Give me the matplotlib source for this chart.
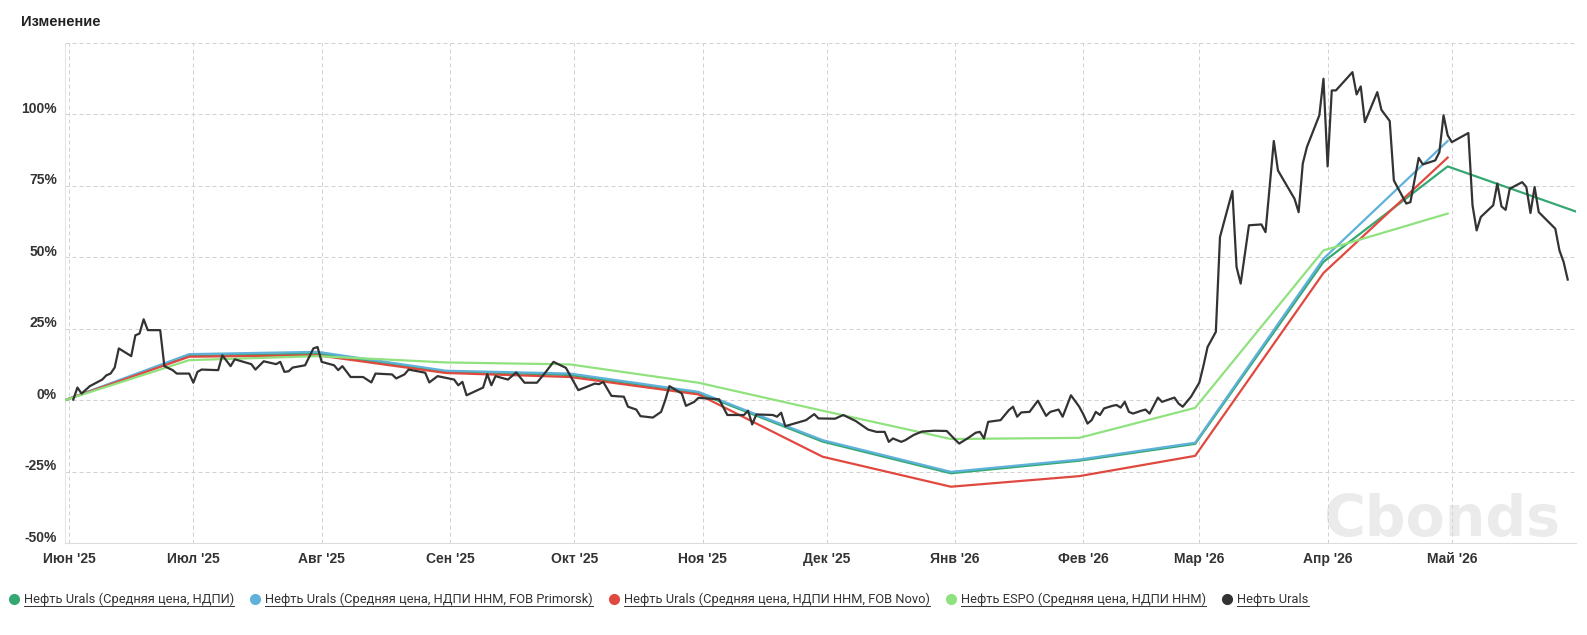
import matplotlib
matplotlib.use("Agg")
import matplotlib.pyplot as plt
from matplotlib.transforms import ScaledTranslation
from matplotlib.lines import Line2D
import pandas as pd

# ---------------- data ----------------
month_points = ["2025-05-31", "2025-06-30", "2025-07-31", "2025-08-31", "2025-09-30",
                "2025-10-31", "2025-11-30", "2025-12-31", "2026-01-31", "2026-02-28",
                "2026-03-31", "2026-04-30", "2026-05-31"]

urals_ndpi      = [0, 15.5, 16.3, 10.0, 8.8, 2.5, -14.5, -25.6, -21.2, -15.3, 48.4, 81.8, 66.0]
urals_primorsk  = [0, 16.1, 16.9, 10.3, 9.3, 2.9, -14.0, -25.1, -20.8, -14.9, 49.5, 90.7]
urals_novo      = [0, 15.2, 15.7, 9.5, 8.1, 2.0, -19.8, -30.3, -26.6, -19.5, 44.5, 84.9]
espo            = [0, 14.0, 15.4, 13.2, 12.5, 6.1, -3.7, -13.6, -13.2, -2.7, 52.4, 65.3]

urals_dates = [
    "2025-06-02", "2025-06-03", "2025-06-04", "2025-06-06", "2025-06-09", "2025-06-10",
    "2025-06-11", "2025-06-12", "2025-06-13", "2025-06-16", "2025-06-17", "2025-06-18",
    "2025-06-19", "2025-06-20", "2025-06-23", "2025-06-24", "2025-06-26", "2025-06-27",
    "2025-06-30", "2025-07-01", "2025-07-02", "2025-07-03", "2025-07-07", "2025-07-08",
    "2025-07-10", "2025-07-11", "2025-07-14", "2025-07-15", "2025-07-16", "2025-07-18",
    "2025-07-21", "2025-07-22", "2025-07-23", "2025-07-24", "2025-07-25", "2025-07-28",
    "2025-07-30", "2025-07-31", "2025-08-01", "2025-08-04", "2025-08-05", "2025-08-06",
    "2025-08-08", "2025-08-11", "2025-08-13", "2025-08-14", "2025-08-18", "2025-08-19",
    "2025-08-21", "2025-08-22", "2025-08-26", "2025-08-27", "2025-08-29", "2025-09-02",
    "2025-09-03", "2025-09-04", "2025-09-05", "2025-09-09", "2025-09-10", "2025-09-11",
    "2025-09-12", "2025-09-15", "2025-09-17", "2025-09-19", "2025-09-22", "2025-09-24",
    "2025-09-26", "2025-09-29", "2025-10-02", "2025-10-06", "2025-10-07", "2025-10-08",
    "2025-10-10", "2025-10-13", "2025-10-14", "2025-10-16", "2025-10-17", "2025-10-20",
    "2025-10-22", "2025-10-23", "2025-10-24", "2025-10-27", "2025-10-28", "2025-10-30",
    "2025-10-31", "2025-11-05", "2025-11-07", "2025-11-11", "2025-11-12", "2025-11-13",
    "2025-11-14", "2025-11-18", "2025-11-19", "2025-11-20", "2025-11-21", "2025-11-26",
    "2025-11-28", "2025-11-29", "2025-12-03", "2025-12-05", "2025-12-08", "2025-12-11",
    "2025-12-13", "2025-12-15", "2025-12-16", "2025-12-17", "2025-12-19", "2025-12-20",
    "2025-12-22", "2025-12-24", "2025-12-27", "2025-12-30", "2026-01-01", "2026-01-02",
    "2026-01-04", "2026-01-06", "2026-01-07", "2026-01-08", "2026-01-09", "2026-01-12",
    "2026-01-14", "2026-01-15", "2026-01-16", "2026-01-17", "2026-01-19", "2026-01-21",
    "2026-01-23", "2026-01-24", "2026-01-26", "2026-01-27", "2026-01-29", "2026-01-31",
    "2026-02-01", "2026-02-02", "2026-02-03", "2026-02-04", "2026-02-05", "2026-02-06",
    "2026-02-08", "2026-02-09", "2026-02-10", "2026-02-11", "2026-02-12", "2026-02-13",
    "2026-02-15", "2026-02-16", "2026-02-17", "2026-02-19", "2026-02-20", "2026-02-23",
    "2026-02-24", "2026-02-25", "2026-02-27", "2026-03-01", "2026-03-02", "2026-03-03",
    "2026-03-05", "2026-03-06", "2026-03-09", "2026-03-10", "2026-03-11", "2026-03-13",
    "2026-03-16", "2026-03-17", "2026-03-19", "2026-03-20", "2026-03-24", "2026-03-25",
    "2026-03-26", "2026-03-27", "2026-03-30", "2026-03-31", "2026-04-01", "2026-04-02",
    "2026-04-03", "2026-04-07", "2026-04-08", "2026-04-09", "2026-04-10", "2026-04-13",
    "2026-04-14", "2026-04-16", "2026-04-17", "2026-04-20", "2026-04-21", "2026-04-23",
    "2026-04-24", "2026-04-27", "2026-04-28", "2026-04-29", "2026-04-30", "2026-05-01",
    "2026-05-05", "2026-05-06", "2026-05-07", "2026-05-08", "2026-05-11", "2026-05-12",
    "2026-05-13", "2026-05-14", "2026-05-15", "2026-05-18", "2026-05-19", "2026-05-20",
    "2026-05-21", "2026-05-22", "2026-05-26", "2026-05-27", "2026-05-28", "2026-05-29",
]
urals_values = [
    0.2, 4.4, 2.3, 4.9, 7.2, 8.7,
    9.3, 11.4, 18.1, 15.4, 22.7, 23.3,
    28.3, 24.5, 24.5, 11.9, 10.5, 9.3,
    9.3, 6.1, 9.9, 10.7, 10.5, 15.7,
    11.9, 14.3, 13.0, 12.6, 10.7, 13.6,
    12.6, 13.4, 9.9, 10.1, 11.4, 12.2,
    18.1, 18.6, 13.4, 12.2, 10.5, 11.9,
    8.1, 8.1, 6.2, 9.3, 9.0, 7.6,
    9.0, 10.7, 9.6, 6.2, 8.4, 7.2,
    5.2, 6.4, 1.7, 4.4, 9.1, 5.2,
    8.4, 7.2, 9.7, 6.1, 6.1, 9.6,
    13.4, 11.3, 3.5, 5.8, 5.6, 6.4,
    1.5, 1.2, -2.3, -3.3, -5.6, -6.1,
    -4.1, 0.0, 4.9, 2.3, -2.0, -0.6,
    0.8, 0.3, -5.2, -5.2, -3.7, -8.5,
    -5.0, -5.2, -5.8, -4.4, -9.1, -7.0,
    -4.9, -6.4, -6.5, -5.2, -7.3, -10.3,
    -11.1, -11.1, -14.6, -13.4, -14.6, -14.0,
    -12.2, -11.0, -10.7, -10.8, -13.8, -15.2,
    -13.4, -11.4, -11.1, -13.4, -7.6, -7.0,
    -3.5, -2.3, -5.8, -4.3, -4.1, -0.2,
    -5.5, -4.1, -3.3, -5.8, 1.7, -2.3,
    -5.0, -8.2, -7.0, -4.1, -5.2, -2.9,
    -2.0, -1.7, -2.6, -0.6, -4.1, -4.7,
    -3.7, -3.3, -4.7, 0.9, -0.6, 0.9,
    -1.2, -2.3, 1.2, 6.1, 12.0, 18.6,
    23.9, 57.1, 73.2, 46.6, 40.8, 61.2,
    61.5, 58.8, 90.7, 80.4, 70.5, 65.8,
    82.8, 88.6, 99.7, 112.5, 81.8, 108.4,
    108.4, 114.8, 107.0, 109.8, 97.3, 107.8,
    101.6, 97.7, 76.9, 68.8, 69.3, 84.8,
    82.5, 83.9, 86.8, 99.7, 92.7, 90.3,
    93.5, 68.2, 59.4, 64.1, 68.2, 75.8,
    67.8, 66.6, 74.0, 76.3, 74.6, 65.5,
    74.6, 65.8, 60.0, 52.4, 48.4, 42.2,
]

month_ticks = ["2025-06-01", "2025-07-01", "2025-08-01", "2025-09-01", "2025-10-01",
               "2025-11-01", "2025-12-01", "2026-01-01", "2026-02-01", "2026-03-01",
               "2026-04-01", "2026-05-01"]
month_labels = ["Июн '25", "Июл '25", "Авг '25", "Сен '25", "Окт '25", "Ноя '25",
                "Дек '25", "Янв '26", "Фев '26", "Мар '26", "Апр '26", "Май '26"]
y_ticks = [-50, -25, 0, 25, 50, 75, 100, 125]

series_names = ["Нефть Urals (Средняя цена, НДПИ)",
                "Нефть Urals (Средняя цена, НДПИ ННМ, FOB Primorsk)",
                "Нефть Urals (Средняя цена, НДПИ ННМ, FOB Novo)",
                "Нефть ESPO (Средняя цена, НДПИ ННМ)",
                "Нефть Urals"]
colors = ["#35a872", "#5eb2da", "#e0493f", "#8fe27e", "#333333"]

# ---------------- figure ----------------
W, H, DPI = 1587, 635, 100
fig = plt.figure(figsize=(W / DPI, H / DPI), dpi=DPI)
fig.patch.set_facecolor("white")

L, R, T, B = 65, 1576, 43, 543
ax = fig.add_axes([L / W, 1 - B / H, (R - L) / W, (B - T) / H])
ax.set_axisbelow(True)

md = pd.to_datetime(month_points)
ax.plot(md, urals_ndpi, color=colors[0], lw=1.6, zorder=2)
ax.plot(md[:len(urals_primorsk)], urals_primorsk, color=colors[1], lw=1.6, zorder=3)
ax.plot(md[:len(urals_novo)], urals_novo, color=colors[2], lw=1.6, zorder=4)
ax.plot(md[:len(espo)], espo, color=colors[3], lw=1.6, zorder=5)
ax.plot(pd.to_datetime(urals_dates), urals_values, color=colors[4], lw=1.6, zorder=6)

ax.set_xlim(pd.Timestamp("2025-05-31"), pd.Timestamp("2026-05-31"))
ax.set_ylim(-50, 125)

ax.set_xticks(pd.to_datetime(month_ticks))
ax.set_xticklabels(month_labels, fontsize=10, fontweight="bold", color="#333333",
                   family="Liberation Sans")
ax.set_yticks(y_ticks)
ax.set_yticklabels([f"{v}%" if v != 125 else "" for v in y_ticks], fontsize=10,
                   fontweight="bold", color="#333333", family="Liberation Sans")
ax.tick_params(axis="both", length=0)
ax.tick_params(axis="x", pad=14.4)
ax.tick_params(axis="y", pad=5.8)
for lab in ax.get_xticklabels():
    lab.set_verticalalignment("baseline")
for lab in ax.get_yticklabels():
    lab.set_transform(lab.get_transform() + ScaledTranslation(0, 7 / DPI, fig.dpi_scale_trans))

ax.grid(True, color="#d2d2d2", linestyle=(0, (4, 3)), linewidth=0.72)
for s in ["top", "right"]:
    ax.spines[s].set_visible(False)
ax.spines["left"].set_color("#e6e6e6")
ax.spines["left"].set_linewidth(0.8)
ax.spines["bottom"].set_color("#dcdcdc")
ax.spines["bottom"].set_linewidth(0.8)

# watermark
ax.text((1560 - L) / (R - L), (B - 536) / (B - T), "Cbonds", transform=ax.transAxes,
        ha="right", va="baseline", fontsize=41, fontweight="bold", color="#ebebeb",
        family="DejaVu Sans", zorder=0.2)

# title
fig.text(21 / W, 1 - 26.5 / H, "Изменение", fontsize=10.5, fontweight="bold",
         color="#222222", family="Liberation Sans", ha="left", va="baseline")

# legend (custom, with underlined labels)
leg_y = 1 - 603 / H
x = 14
renderer = fig.canvas.get_renderer()
for name, c in zip(series_names, colors):
    fig.add_artist(Line2D([x / W], [leg_y + 4 / H], marker="o", markersize=7,
                          color=c, linestyle="none", transform=fig.transFigure))
    t = fig.text((x + 10) / W, leg_y, name, fontsize=9.3, color="#333333",
                 family="Roboto", ha="left", va="baseline")
    bb = t.get_window_extent(renderer=renderer)
    fig.add_artist(Line2D([(x + 10) / W, (x + 10 + bb.width) / W],
                          [leg_y - 2.5 / H, leg_y - 2.5 / H], color="#333333",
                          lw=0.7, transform=fig.transFigure))
    x = x + 10 + bb.width + 21

fig.savefig("out.png", dpi=DPI, facecolor="white")
